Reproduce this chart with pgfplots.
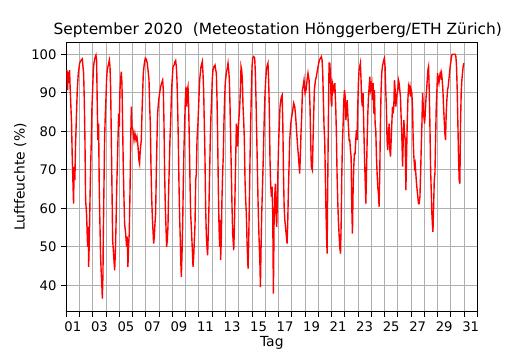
\documentclass[border=0pt]{standalone}
\usepackage{pgfplots}
\pgfplotsset{compat=1.18}
\usepackage{fontspec}
\setmainfont{DejaVu Sans}
\usetikzlibrary{calc}
\begin{document}
\begin{tikzpicture}
\begin{axis}[
  scale only axis,
  width=296pt, height=194pt,
  xmin=0, xmax=31, ymin=33.1, ymax=103.1,
  axis line style={line width=0.6pt},
  tick align=outside,
  major tick length=3.5pt, minor tick length=3.5pt,
  tick style={black, line width=0.6pt},
  xtick={0.5,2.5,...,30.5},
  xticklabels={01,03,05,07,09,11,13,15,17,19,21,23,25,27,29,31},
  every major x tick/.append style={draw=none},
  minor xtick={0,1,...,31},
  ytick={40,50,...,100},
  xtick pos=bottom, ytick pos=left,
  xmajorgrids=false, xminorgrids=true, ymajorgrids=true,
  major grid style={color=black!31, line width=0.6pt},
  minor grid style={color=black!31, line width=0.6pt},
  /pgf/number format/assume math mode=true,
  ticklabel style={font=\fontsize{9.5}{11}\selectfont},
  xlabel={Tag}, ylabel={Luftfeuchte (\%)},
  xlabel shift=-3.6pt, ylabel shift=-3.4pt,
  label style={font=\fontsize{10}{12}\selectfont},
  title={September 2020\ \ (Meteostation Hönggerberg/ETH Zürich)},
  title style={font=\fontsize{11.1}{13}\selectfont, anchor=south, inner sep=0pt, yshift=-2.6pt, xshift=4.3pt},
]
\addplot[color=red, line width=1pt] coordinates {
(0.00,93.3)(0.05,95.9)(0.10,90.7)(0.15,95.5)(0.20,92.5)(0.25,95.9)(0.30,90.7)(0.35,86.4)(0.40,82.0)(0.45,73.4)
(0.50,67.3)(0.55,61.2)(0.60,70.8)(0.65,67.3)(0.70,76.0)(0.75,82.0)(0.83,90.7)(0.91,95.1)(1.01,97.7)(1.11,98.4)
(1.21,98.8)(1.26,96.8)(1.31,95.1)(1.36,88.1)(1.41,77.7)(1.46,62.1)(1.53,58.6)(1.61,50.0)(1.66,55.2)(1.69,44.8)
(1.74,51.7)(1.79,62.1)(1.84,70.8)(1.89,77.7)(1.94,86.4)(1.99,90.7)(2.04,95.9)(2.09,97.7)(2.16,99.0)(2.24,99.8)
(2.29,98.5)(2.34,86.4)(2.39,77.7)(2.44,82.0)(2.49,64.7)(2.54,56.0)(2.59,47.4)(2.64,43.0)(2.69,39.5)(2.72,36.5)
(2.77,43.0)(2.79,51.7)(2.84,64.7)(2.89,77.7)(2.94,83.8)(2.99,88.1)(3.04,93.3)(3.09,95.9)(3.17,97.2)(3.25,98.5)
(3.30,96.8)(3.35,90.7)(3.40,77.7)(3.45,64.7)(3.50,51.7)(3.55,49.1)(3.60,46.5)(3.65,43.9)(3.70,48.2)(3.75,55.2)
(3.80,64.7)(3.85,70.8)(3.90,77.7)(3.95,84.6)(4.00,81.2)(4.05,90.7)(4.10,93.3)(4.15,95.5)(4.20,92.5)(4.25,82.0)
(4.30,70.8)(4.35,63.0)(4.40,56.0)(4.48,53.4)(4.55,50.0)(4.60,52.6)(4.65,44.8)(4.70,50.0)(4.75,53.4)(4.81,64.7)
(4.86,77.7)(4.91,86.4)(4.96,81.2)(5.03,80.3)(5.11,77.7)(5.18,79.4)(5.26,77.7)(5.33,78.6)(5.41,76.0)(5.48,72.5)
(5.53,71.6)(5.58,75.1)(5.66,77.7)(5.71,84.6)(5.76,89.9)(5.81,95.1)(5.89,97.7)(5.96,99.0)(6.04,98.7)(6.11,97.7)
(6.19,95.1)(6.24,93.3)(6.29,86.4)(6.34,82.0)(6.39,70.8)(6.44,63.0)(6.49,57.8)(6.54,54.3)(6.59,50.8)(6.64,52.6)
(6.69,56.0)(6.74,58.6)(6.79,69.0)(6.84,77.7)(6.89,84.6)(6.97,88.1)(7.04,89.9)(7.12,91.6)(7.19,92.5)(7.27,93.3)
(7.32,90.7)(7.37,82.0)(7.42,69.0)(7.47,60.4)(7.52,55.2)(7.57,50.0)(7.62,51.7)(7.67,55.2)(7.72,64.7)(7.77,70.8)
(7.82,77.7)(7.87,82.0)(7.92,88.1)(7.97,92.5)(8.05,96.8)(8.13,97.2)(8.20,98.1)(8.25,98.4)(8.30,96.8)(8.35,93.3)
(8.40,86.4)(8.45,77.7)(8.50,66.4)(8.55,57.8)(8.60,51.7)(8.65,44.8)(8.68,42.2)(8.73,48.2)(8.78,56.0)(8.83,67.3)
(8.88,76.0)(8.93,82.0)(8.98,88.1)(9.03,91.6)(9.08,86.4)(9.13,90.7)(9.18,91.6)(9.23,86.4)(9.28,77.7)(9.33,67.3)
(9.38,58.6)(9.43,55.2)(9.51,49.1)(9.56,44.8)(9.61,47.4)(9.66,51.7)(9.71,56.0)(9.76,67.3)(9.81,69.0)(9.86,77.7)
(9.93,82.0)(10.06,93.3)(10.16,96.8)(10.26,98.1)(10.31,95.1)(10.36,90.7)(10.41,82.0)(10.46,73.4)(10.51,60.4)(10.56,53.4)
(10.61,50.0)(10.66,47.8)(10.71,53.4)(10.76,60.4)(10.81,69.0)(10.86,77.7)(10.91,83.8)(10.96,88.1)(11.01,93.3)(11.06,95.9)
(11.14,96.8)(11.22,97.2)(11.27,95.9)(11.32,95.1)(11.37,88.1)(11.42,77.7)(11.47,64.7)(11.52,55.2)(11.57,50.0)(11.62,57.0)
(11.64,46.5)(11.69,51.7)(11.74,62.1)(11.79,69.0)(11.84,73.4)(11.89,82.0)(11.94,88.1)(11.99,92.5)(12.07,95.1)(12.12,95.9)
(12.20,97.7)(12.25,95.9)(12.30,93.3)(12.35,86.4)(12.40,77.7)(12.45,69.0)(12.50,60.4)(12.55,53.4)(12.63,49.1)(12.68,55.2)
(12.73,64.7)(12.78,73.4)(12.83,82.0)(12.88,79.4)(12.93,76.0)(12.98,81.2)(13.03,83.8)(13.08,86.4)(13.13,90.7)(13.18,96.8)
(13.23,95.9)(13.28,93.3)(13.33,86.4)(13.38,82.9)(13.43,77.7)(13.48,67.3)(13.53,62.1)(13.58,58.6)(13.63,51.7)(13.68,46.5)
(13.71,44.3)(13.76,51.7)(13.81,62.1)(13.86,73.4)(13.91,82.0)(13.96,90.7)(14.01,96.8)(14.06,99.0)(14.14,99.4)(14.21,99.0)
(14.26,95.1)(14.31,88.1)(14.36,79.4)(14.41,70.8)(14.46,62.1)(14.51,55.2)(14.56,50.0)(14.61,44.8)(14.64,39.5)(14.69,50.0)
(14.74,58.6)(14.79,64.7)(14.84,70.8)(14.89,77.7)(14.94,84.6)(14.99,89.9)(15.04,93.3)(15.09,95.9)(15.16,97.2)(15.21,97.7)
(15.26,93.3)(15.31,86.4)(15.36,73.4)(15.41,66.4)(15.47,63.0)(15.52,65.6)(15.57,58.6)(15.62,37.8)(15.67,56.0)(15.72,63.0)
(15.77,66.4)(15.82,58.6)(15.87,55.2)(15.92,62.1)(15.97,70.8)(16.02,77.7)(16.07,82.0)(16.12,86.4)(16.18,88.1)(16.23,89.0)
(16.28,89.4)(16.33,82.0)(16.38,69.0)(16.43,60.4)(16.48,57.0)(16.53,55.2)(16.58,53.4)(16.65,50.8)(16.70,56.0)(16.75,64.7)
(16.80,70.8)(16.85,77.7)(16.93,82.0)(17.00,83.8)(17.08,85.5)(17.15,87.3)(17.23,86.4)(17.30,83.8)(17.38,79.4)(17.45,76.0)
(17.53,72.5)(17.60,69.0)(17.65,73.4)(17.70,79.4)(17.76,84.6)(17.81,90.7)(17.86,91.6)(17.93,93.3)(18.01,89.9)(18.08,90.7)
(18.16,93.3)(18.23,95.1)(18.31,93.3)(18.38,86.4)(18.43,77.7)(18.48,70.8)(18.56,69.9)(18.61,77.7)(18.66,84.6)(18.71,90.7)
(18.79,93.3)(18.86,94.2)(18.94,95.9)(19.01,97.2)(19.09,98.5)(19.17,99.0)(19.24,99.4)(19.29,98.5)(19.34,95.1)(19.39,88.1)
(19.44,81.2)(19.49,77.7)(19.54,67.3)(19.59,58.6)(19.64,51.7)(19.67,48.2)(19.70,60.4)(19.75,77.7)(19.80,93.3)(19.82,97.7)
(19.87,97.7)(19.92,95.1)(19.97,88.1)(20.02,86.4)(20.07,92.5)(20.12,91.6)(20.17,90.7)(20.25,92.5)(20.32,86.4)(20.37,79.4)
(20.42,69.0)(20.47,62.1)(20.52,56.9)(20.57,53.4)(20.62,50.0)(20.68,48.2)(20.73,56.0)(20.78,69.0)(20.83,77.7)(20.88,82.0)
(20.93,88.1)(20.98,90.7)(21.03,89.0)(21.08,82.9)(21.13,84.6)(21.18,88.1)(21.23,84.6)(21.28,81.2)(21.33,77.7)(21.38,77.7)
(21.43,75.1)(21.48,73.4)(21.53,60.4)(21.58,53.4)(21.63,64.7)(21.68,70.8)(21.73,74.2)(21.78,74.2)(21.83,77.7)(21.88,80.3)
(21.93,77.7)(21.98,86.4)(22.03,92.5)(22.08,95.9)(22.13,96.8)(22.18,97.7)(22.23,93.3)(22.28,88.1)(22.33,86.4)(22.38,89.9)
(22.43,82.0)(22.49,73.4)(22.54,67.3)(22.59,61.2)(22.64,69.0)(22.69,77.7)(22.74,84.6)(22.79,89.0)(22.84,91.6)(22.89,94.2)
(22.94,90.7)(22.99,91.6)(23.04,92.5)(23.09,88.1)(23.14,92.5)(23.19,84.6)(23.24,90.7)(23.29,82.0)(23.34,80.3)(23.39,73.4)
(23.44,69.0)(23.49,65.6)(23.54,63.8)(23.59,60.4)(23.64,69.0)(23.69,82.0)(23.74,90.7)(23.79,95.1)(23.84,96.8)(23.89,97.7)
(23.94,98.5)(23.99,99.0)(24.04,96.8)(24.09,90.7)(24.14,86.4)(24.19,77.7)(24.24,75.1)(24.30,79.4)(24.35,82.0)(24.40,75.1)
(24.45,73.4)(24.50,77.7)(24.55,82.0)(24.60,86.4)(24.65,84.6)(24.70,86.4)(24.75,93.3)(24.80,90.7)(24.85,86.4)(24.90,88.1)
(24.95,89.9)(25.00,90.7)(25.05,93.3)(25.10,92.5)(25.15,90.7)(25.20,89.0)(25.25,83.8)(25.30,79.4)(25.36,70.8)(25.41,77.7)
(25.46,82.9)(25.51,79.4)(25.56,77.7)(25.61,64.7)(25.66,73.4)(25.71,82.0)(25.76,88.1)(25.81,91.6)(25.86,90.7)(25.91,91.6)
(25.96,89.0)(26.01,90.7)(26.06,89.9)(26.11,86.4)(26.16,77.7)(26.21,73.4)(26.26,70.8)(26.31,71.6)(26.36,69.0)(26.41,66.4)
(26.46,64.7)(26.51,63.0)(26.56,61.2)(26.61,61.2)(26.67,63.0)(26.72,69.0)(26.77,76.0)(26.82,82.0)(26.87,89.9)(26.92,86.4)
(26.97,83.8)(27.02,82.0)(27.07,84.6)(27.12,88.1)(27.17,90.7)(27.22,93.3)(27.27,95.9)(27.32,96.8)(27.37,90.7)(27.42,82.0)
(27.47,70.8)(27.52,64.7)(27.57,58.6)(27.62,55.2)(27.65,53.9)(27.70,60.4)(27.75,67.3)(27.80,69.0)(27.85,77.7)(27.90,86.4)
(27.95,90.7)(28.00,95.1)(28.05,93.3)(28.10,92.5)(28.15,94.2)(28.20,95.1)(28.25,94.2)(28.30,95.1)(28.35,93.3)(28.40,90.7)
(28.45,86.4)(28.50,82.9)(28.55,79.4)(28.60,77.7)(28.65,84.6)(28.70,88.1)(28.75,90.7)(28.80,91.6)(28.85,93.3)(28.90,95.1)
(28.95,96.8)(29.00,98.1)(29.05,99.4)(29.10,100.0)(29.18,100.0)(29.25,100.0)(29.33,100.0)(29.38,99.4)(29.43,96.8)(29.48,90.7)
(29.53,82.0)(29.58,73.4)(29.63,67.3)(29.68,66.4)(29.73,82.0)(29.78,89.9)(29.83,93.3)(29.88,95.1)(29.93,96.8)(29.98,97.7)
};
\end{axis}
\path ($(current axis.south west)+(-47.7pt,-27.6pt)$) rectangle ($(current axis.north east)+(37.9pt,30.5pt)$);
\end{tikzpicture}
\end{document}
